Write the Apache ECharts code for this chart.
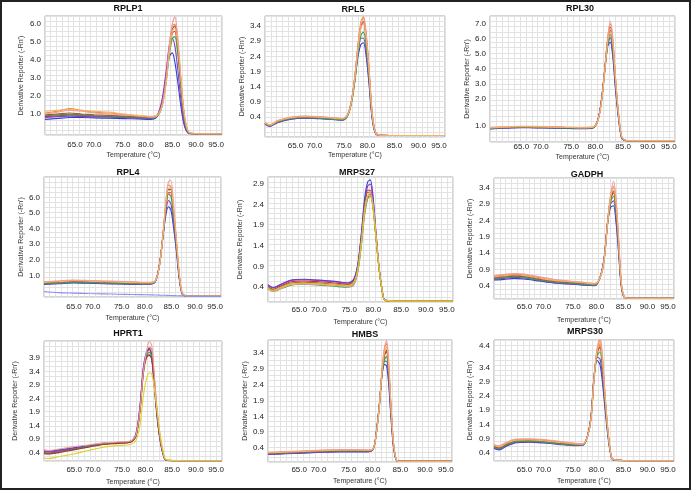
<!DOCTYPE html>
<html><head><meta charset="utf-8">
<script src="https://cdn.jsdelivr.net/npm/echarts@6/dist/echarts.min.js"></script>
<style>html,body{margin:0;padding:0;background:#fff}#c{width:691px;height:491px}</style>
</head><body><div id="c"></div>
<script>
// ---------- shared tick labels ----------
const xTickText = ['65.0','70.0','75.0','80.0','85.0','90.0','95.0'];
const xTickPos  = [66.1, 69.9, 75.8, 80.5, 85.9, 90.7, 94.8];
const xAxisTitle = 'Temperature (°C)';
const yAxisTitle = "Derivative Reporter (-Rn')";

// ---------- RPLP1 ----------
const RPLP1_T = [60,62.5,65,67.5,70,73,76,79,81.5,82.8,83.8,84.6,85.3,85.9,86.4,87,87.6,88.2,88.8,89.5,92,96];
const RPLP1_Y = [
 [0.85,0.9,0.95,0.92,0.88,0.85,0.82,0.78,0.76,0.88,1.5,2.9,4.5,5.5,5.6,4.5,2.7,1.0,0.15,-0.08,-0.1,-0.1],
 [1.05,1.15,1.3,1.2,1.1,1.05,0.98,0.9,0.85,0.95,1.6,3.1,4.9,5.9,6.0,4.8,2.9,1.1,0.2,-0.07,-0.1,-0.1],
 [0.7,0.75,0.8,0.8,0.78,0.76,0.74,0.72,0.7,0.85,1.6,3.0,4.2,4.4,3.9,2.8,1.5,0.5,0.02,-0.1,-0.1,-0.1],
 [0.8,0.85,0.88,0.86,0.84,0.82,0.8,0.76,0.74,0.9,1.8,3.3,4.8,5.2,4.8,3.5,1.9,0.6,0.05,-0.09,-0.1,-0.1],
 [0.9,0.95,0.98,0.95,0.9,0.88,0.84,0.8,0.78,0.86,1.4,2.7,4.3,5.2,5.3,4.4,2.7,1.0,0.15,-0.08,-0.1,-0.1],
 [0.95,1.0,1.05,1.0,0.96,0.92,0.88,0.84,0.8,0.9,1.5,2.8,4.6,5.7,5.9,4.9,3.0,1.2,0.25,-0.06,-0.1,-0.1],
 [1.0,1.1,1.2,1.15,1.05,1.0,0.95,0.88,0.82,0.9,1.5,2.9,4.8,6.0,6.4,5.3,3.2,1.3,0.25,-0.06,-0.1,-0.1],
 [1.15,1.2,1.25,1.2,1.15,1.1,1.0,0.92,0.86,0.92,1.4,2.6,4.4,5.6,5.8,4.9,3.1,1.3,0.3,-0.05,-0.1,-0.1]
];
const RPLP1_TICKS = [1,2,3,4,5,6];
const RPLP1_TICKTXT = ['1.0','2.0','3.0','4.0','5.0','6.0'];

// ---------- RPL5 ----------
const RPL5_T = [60,61,62.5,65,68,71,74,75.5,76.5,77.3,78,78.6,79.2,79.7,80.2,80.8,81.4,82,82.6,85,90,96];
const RPL5_Y = [
 [0.2,0.12,0.26,0.37,0.41,0.39,0.35,0.33,0.46,0.92,1.75,2.7,3.4,3.5,3.0,1.85,0.5,-0.08,-0.18,-0.2,-0.2,-0.2],
 [0.22,0.14,0.28,0.39,0.43,0.41,0.37,0.35,0.48,0.95,1.8,2.8,3.55,3.7,3.2,2.0,0.6,-0.06,-0.18,-0.2,-0.2,-0.2],
 [0.17,0.1,0.22,0.33,0.37,0.35,0.32,0.3,0.44,0.9,1.65,2.4,2.8,2.85,2.45,1.5,0.4,-0.1,-0.19,-0.2,-0.2,-0.2],
 [0.18,0.11,0.23,0.34,0.38,0.36,0.33,0.31,0.45,0.92,1.7,2.5,3.0,3.0,2.6,1.6,0.42,-0.1,-0.19,-0.2,-0.2,-0.2],
 [0.19,0.12,0.24,0.35,0.39,0.37,0.33,0.31,0.43,0.86,1.6,2.5,3.1,3.2,2.8,1.75,0.48,-0.08,-0.18,-0.2,-0.2,-0.2],
 [0.21,0.13,0.27,0.38,0.42,0.4,0.36,0.34,0.47,0.94,1.75,2.7,3.4,3.55,3.1,1.95,0.58,-0.06,-0.18,-0.2,-0.2,-0.2],
 [0.23,0.15,0.29,0.4,0.44,0.42,0.38,0.36,0.49,0.96,1.8,2.75,3.5,3.65,3.2,2.05,0.62,-0.05,-0.18,-0.2,-0.2,-0.2],
 [0.21,0.14,0.27,0.38,0.42,0.4,0.36,0.34,0.46,0.9,1.72,2.65,3.35,3.5,3.05,1.9,0.55,-0.07,-0.18,-0.2,-0.2,-0.2]
];
const RPL5_TICKS = [0.4,0.9,1.4,1.9,2.4,2.9,3.4];
const RPL5_TICKTXT = ['0.4','0.9','1.4','1.9','2.4','2.9','3.4'];

// ---------- RPL30 ----------
const RPL30_T = [60,63,66,69,72,75,78,80,81,81.7,82.3,82.9,83.4,83.9,84.4,85,85.6,86.2,87,90,96];
const RPL30_Y = [
 [0.05,0.1,0.13,0.12,0.1,0.08,0.06,0.1,0.62,1.95,3.9,5.9,6.6,5.4,3.1,0.9,-0.55,-0.75,-0.78,-0.78,-0.78],
 [0.08,0.13,0.16,0.15,0.13,0.1,0.08,0.12,0.6,1.9,3.9,6.1,7.0,5.9,3.4,1.0,-0.52,-0.74,-0.78,-0.78,-0.78],
 [0.0,0.05,0.08,0.07,0.05,0.03,0.02,0.05,0.6,1.95,3.8,5.5,5.8,4.8,2.7,0.7,-0.6,-0.76,-0.78,-0.78,-0.78],
 [0.02,0.07,0.1,0.09,0.07,0.05,0.04,0.07,0.62,1.95,3.85,5.6,6.1,5.0,2.9,0.8,-0.58,-0.76,-0.78,-0.78,-0.78],
 [0.03,0.08,0.11,0.1,0.08,0.06,0.05,0.08,0.58,1.85,3.7,5.6,6.3,5.3,3.1,0.9,-0.55,-0.75,-0.78,-0.78,-0.78],
 [0.06,0.11,0.14,0.14,0.12,0.09,0.07,0.1,0.58,1.85,3.8,5.9,6.8,5.8,3.4,1.05,-0.5,-0.74,-0.78,-0.78,-0.78],
 [0.09,0.14,0.18,0.17,0.14,0.11,0.09,0.12,0.56,1.8,3.8,6.0,7.2,6.1,3.6,1.1,-0.48,-0.73,-0.78,-0.78,-0.78],
 [0.07,0.12,0.15,0.14,0.12,0.1,0.08,0.11,0.57,1.82,3.75,5.8,6.7,5.7,3.4,1.0,-0.5,-0.74,-0.78,-0.78,-0.78]
];
const RPL30_TICKS = [0.2,2,3,4,5,6,7];
const RPL30_TICKTXT = ['1.0','2.0','3.0','4.0','5.0','6.0','7.0'];

// ---------- RPL4 ----------
const RPL4_T = [60,63,66,69,72,75,78,81,82.6,83.5,84.2,84.8,85.3,85.8,86.3,86.9,87.5,88.1,89,92,96];
const RPL4_Y = [
 [0.5,0.55,0.6,0.58,0.55,0.53,0.5,0.48,0.6,1.7,3.6,5.4,6.3,6.3,5.1,3.1,1.0,-0.15,-0.32,-0.32,-0.32],
 [0.58,0.63,0.68,0.66,0.63,0.6,0.57,0.54,0.64,1.7,3.7,5.7,6.8,6.7,5.4,3.3,1.1,-0.12,-0.32,-0.32,-0.32],
 [0.42,0.47,0.52,0.5,0.47,0.45,0.43,0.42,0.58,1.75,3.5,4.9,5.4,5.2,4.2,2.6,0.8,-0.18,-0.32,-0.32,-0.32],
 [0.45,0.5,0.55,0.53,0.5,0.48,0.46,0.44,0.6,1.75,3.55,5.1,5.8,5.6,4.5,2.8,0.9,-0.17,-0.32,-0.32,-0.32],
 [0.47,0.52,0.57,0.55,0.52,0.5,0.48,0.46,0.58,1.65,3.5,5.3,6.2,6.1,4.9,3.0,0.95,-0.15,-0.32,-0.32,-0.32],
 [0.53,0.58,0.63,0.61,0.58,0.55,0.52,0.5,0.61,1.68,3.6,5.5,6.5,6.5,5.3,3.2,1.05,-0.14,-0.32,-0.32,-0.32],
 [0.6,0.65,0.7,0.68,0.65,0.62,0.59,0.56,0.65,1.65,3.65,5.8,7.0,7.1,5.8,3.5,1.2,-0.1,-0.32,-0.32,-0.32],
 [0.55,0.6,0.66,0.64,0.6,0.57,0.54,0.52,0.62,1.66,3.6,5.6,6.6,6.6,5.4,3.3,1.1,-0.12,-0.32,-0.32,-0.32],
 [-0.03,-0.1,-0.13,-0.16,-0.18,-0.2,-0.22,-0.24,-0.25,-0.26,-0.27,-0.27,-0.28,-0.28,-0.29,-0.3,-0.3,-0.31,-0.32,-0.34,-0.35]
];
const RPL4_TICKS = [1,2,3,4,5,6];
const RPL4_TICKTXT = ['1.0','2.0','3.0','4.0','5.0','6.0'];

// ---------- MRPS27 ----------
const MRPS27_T = [60,61,62.5,64.5,67,70,73,75.5,76.7,77.5,78.2,78.8,79.4,79.9,80.4,81,81.6,82.2,82.8,86,96];
const MRPS27_Y = [
 [0.42,0.35,0.43,0.53,0.55,0.53,0.5,0.47,0.56,0.92,1.65,2.35,2.75,2.75,2.45,1.65,0.88,0.34,0.08,0.06,0.06],
 [0.38,0.31,0.38,0.47,0.49,0.47,0.45,0.43,0.5,0.82,1.5,2.2,2.55,2.6,2.35,1.6,0.85,0.33,0.08,0.06,0.06],
 [0.46,0.39,0.47,0.57,0.59,0.57,0.54,0.5,0.6,0.98,1.75,2.55,2.95,3.0,2.65,1.75,0.9,0.34,0.08,0.06,0.06],
 [0.45,0.38,0.46,0.56,0.58,0.56,0.53,0.5,0.58,0.95,1.7,2.45,2.85,2.9,2.55,1.7,0.88,0.33,0.08,0.06,0.06],
 [0.36,0.3,0.36,0.45,0.47,0.45,0.42,0.4,0.46,0.78,1.45,2.15,2.55,2.65,2.4,1.65,0.88,0.35,0.08,0.06,0.06],
 [0.4,0.33,0.41,0.5,0.52,0.5,0.47,0.45,0.53,0.88,1.58,2.3,2.7,2.7,2.4,1.62,0.86,0.33,0.08,0.06,0.06],
 [0.37,0.3,0.37,0.46,0.48,0.46,0.44,0.41,0.47,0.8,1.48,2.2,2.6,2.7,2.45,1.7,0.9,0.36,0.08,0.06,0.06],
 [0.39,0.32,0.4,0.48,0.5,0.48,0.46,0.44,0.52,0.86,1.55,2.28,2.62,2.62,2.35,1.6,0.85,0.33,0.08,0.06,0.06]
];
const MRPS27_TICKS = [0.4,0.9,1.4,1.9,2.4,2.9];
const MRPS27_TICKTXT = ['0.4','0.9','1.4','1.9','2.4','2.9'];

// ---------- GADPH ----------
const GADPH_T = [60,62,64,66,69,72,75,78,80.2,81.2,82,82.7,83.3,83.9,84.4,84.9,85.4,85.9,86.5,90,96];
const GADPH_Y = [
 [0.64,0.67,0.7,0.68,0.6,0.53,0.5,0.46,0.44,0.66,1.2,2.35,3.05,3.25,2.75,1.72,0.52,0.1,0.03,0.02,0.02],
 [0.7,0.73,0.76,0.74,0.66,0.58,0.54,0.5,0.47,0.66,1.18,2.35,3.15,3.45,2.95,1.85,0.58,0.12,0.03,0.02,0.02],
 [0.58,0.6,0.63,0.61,0.55,0.49,0.46,0.42,0.41,0.65,1.22,2.3,2.8,2.85,2.35,1.45,0.45,0.08,0.03,0.02,0.02],
 [0.6,0.63,0.66,0.64,0.57,0.5,0.47,0.44,0.42,0.66,1.22,2.3,2.9,3.0,2.5,1.55,0.48,0.09,0.03,0.02,0.02],
 [0.62,0.65,0.68,0.66,0.58,0.52,0.49,0.45,0.43,0.63,1.15,2.25,2.95,3.15,2.7,1.7,0.52,0.1,0.03,0.02,0.02],
 [0.67,0.7,0.73,0.71,0.63,0.56,0.52,0.48,0.46,0.65,1.17,2.3,3.05,3.3,2.85,1.8,0.56,0.11,0.03,0.02,0.02],
 [0.72,0.75,0.78,0.76,0.68,0.6,0.55,0.51,0.48,0.65,1.15,2.3,3.15,3.6,3.1,1.95,0.62,0.13,0.03,0.02,0.02],
 [0.68,0.71,0.74,0.72,0.64,0.57,0.53,0.49,0.46,0.64,1.16,2.3,3.1,3.4,2.9,1.82,0.57,0.11,0.03,0.02,0.02]
];
const GADPH_TICKS = [0.4,0.9,1.4,1.9,2.4,2.9,3.4];
const GADPH_TICKTXT = ['0.4','0.9','1.4','1.9','2.4','2.9','3.4'];

// ---------- HPRT1 ----------
const HPRT1_T = [60,61,63,66,69,72,75,77.5,78.6,79.4,80.1,80.7,81.3,81.8,82.3,82.8,83.4,84,84.7,88,96];
const HPRT1_Y = [
 [0.4,0.38,0.44,0.54,0.63,0.72,0.76,0.8,1.05,2.0,3.45,4.0,4.2,4.05,3.05,2.0,1.05,0.45,0.12,0.1,0.1],
 [0.45,0.43,0.48,0.58,0.66,0.75,0.78,0.8,1.0,1.9,3.3,3.95,4.3,4.2,3.2,2.1,1.1,0.47,0.13,0.1,0.1],
 [0.48,0.46,0.5,0.58,0.65,0.74,0.77,0.82,1.1,2.1,3.55,4.1,4.25,3.9,2.9,1.85,0.95,0.4,0.11,0.1,0.1],
 [0.44,0.42,0.47,0.56,0.64,0.73,0.76,0.8,1.08,2.05,3.5,3.95,4.0,3.8,2.85,1.85,0.95,0.4,0.11,0.1,0.1],
 [0.38,0.36,0.42,0.52,0.62,0.72,0.75,0.79,1.02,1.95,3.35,3.95,4.1,3.95,3.0,1.95,1.0,0.43,0.12,0.1,0.1],
 [0.36,0.35,0.4,0.5,0.6,0.7,0.74,0.78,1.0,1.95,3.4,3.9,4.0,3.85,2.95,1.95,1.0,0.43,0.12,0.1,0.1],
 [0.5,0.48,0.53,0.62,0.68,0.76,0.79,0.83,1.05,1.95,3.4,4.1,4.5,4.35,3.3,2.15,1.1,0.47,0.13,0.1,0.1],
 [0.2,0.18,0.25,0.35,0.48,0.6,0.66,0.7,0.85,1.4,2.5,3.1,3.35,3.3,2.8,2.05,1.2,0.55,0.15,0.1,0.1]
];
const HPRT1_TICKS = [0.4,0.9,1.4,1.9,2.4,2.9,3.4,3.9];
const HPRT1_TICKTXT = ['0.4','0.9','1.4','1.9','2.4','2.9','3.4','3.9'];

// ---------- HMBS ----------
const HMBS_T = [60,62,65,68,71,74,77,79.5,80.6,81.2,81.8,82.3,82.8,83.2,83.6,84,84.5,85,85.5,89,96];
const HMBS_Y = [
 [0.22,0.23,0.25,0.27,0.29,0.3,0.3,0.3,0.37,0.9,1.8,2.8,3.35,3.45,2.9,1.8,0.6,0.07,-0.02,-0.02,-0.02],
 [0.26,0.27,0.29,0.31,0.33,0.34,0.34,0.33,0.39,0.88,1.78,2.85,3.55,3.7,3.1,1.9,0.65,0.08,-0.02,-0.02,-0.02],
 [0.2,0.21,0.23,0.25,0.27,0.28,0.28,0.28,0.36,0.92,1.8,2.7,3.05,3.0,2.45,1.5,0.5,0.05,-0.02,-0.02,-0.02],
 [0.21,0.22,0.24,0.26,0.28,0.29,0.29,0.29,0.37,0.92,1.8,2.72,3.15,3.15,2.6,1.6,0.53,0.06,-0.02,-0.02,-0.02],
 [0.23,0.24,0.26,0.28,0.3,0.31,0.31,0.31,0.37,0.86,1.72,2.7,3.2,3.3,2.8,1.75,0.58,0.07,-0.02,-0.02,-0.02],
 [0.24,0.25,0.27,0.29,0.31,0.32,0.32,0.32,0.38,0.88,1.76,2.78,3.35,3.5,2.95,1.85,0.62,0.08,-0.02,-0.02,-0.02],
 [0.27,0.28,0.3,0.32,0.34,0.35,0.35,0.34,0.39,0.86,1.75,2.85,3.6,3.8,3.2,1.95,0.68,0.09,-0.02,-0.02,-0.02],
 [0.25,0.26,0.28,0.3,0.32,0.33,0.33,0.33,0.38,0.87,1.76,2.8,3.45,3.6,3.05,1.88,0.64,0.08,-0.02,-0.02,-0.02]
];
const HMBS_TICKS = [0.4,0.9,1.4,1.9,2.4,2.9,3.4];
const HMBS_TICKTXT = ['0.4','0.9','1.4','1.9','2.4','2.9','3.4'];

// ---------- MRPS30 ----------
const MRPS30_T = [60,61,62.5,64.5,67,70,73,76,77.8,78.7,79.4,80,80.6,81.2,81.7,82.2,82.7,83.2,83.8,87,96];
const MRPS30_Y = [
 [0.62,0.57,0.7,0.82,0.84,0.81,0.75,0.7,0.7,1.0,1.65,3.05,3.9,4.1,3.45,2.3,1.3,0.55,0.18,0.13,0.13],
 [0.68,0.63,0.76,0.87,0.88,0.85,0.79,0.73,0.72,0.98,1.6,3.0,4.0,4.35,3.7,2.45,1.35,0.57,0.18,0.13,0.13],
 [0.56,0.51,0.64,0.76,0.78,0.75,0.7,0.66,0.67,1.0,1.7,3.05,3.65,3.5,2.85,1.95,1.1,0.48,0.16,0.13,0.13],
 [0.58,0.53,0.66,0.78,0.8,0.77,0.72,0.67,0.68,1.0,1.68,3.05,3.75,3.7,3.05,2.1,1.2,0.5,0.17,0.13,0.13],
 [0.6,0.55,0.68,0.8,0.81,0.78,0.73,0.68,0.69,0.97,1.6,2.95,3.8,3.95,3.3,2.25,1.25,0.53,0.17,0.13,0.13],
 [0.64,0.59,0.72,0.84,0.85,0.82,0.76,0.71,0.71,0.99,1.62,3.0,3.9,4.2,3.55,2.35,1.3,0.55,0.18,0.13,0.13],
 [0.7,0.65,0.78,0.89,0.9,0.87,0.81,0.75,0.73,0.98,1.58,2.98,4.05,4.45,3.8,2.5,1.38,0.58,0.18,0.13,0.13],
 [0.66,0.61,0.74,0.85,0.86,0.83,0.77,0.72,0.71,0.98,1.6,3.0,3.95,4.25,3.6,2.4,1.32,0.56,0.18,0.13,0.13]
];
const MRPS30_TICKS = [0.4,0.9,1.4,1.9,2.4,2.9,3.4,3.9,4.16];
const MRPS30_TICKTXT = ['0.4','0.9','1.4','1.9','2.4','2.9','3.4','3.9','4.4'];

// ---------- layout & style (not data) ----------
const FONT = 'Liberation Sans, Arial, Helvetica, sans-serif';
const baseColors = ['#e3262b','#f28a25','#2f3fd6','#8a3cbf','#2ea64e','#9c5a2e','#f09aa2','#f5b26a'];
const panels = [
 {name:'RPLP1', T:RPLP1_T, Y:RPLP1_Y, ticks:RPLP1_TICKS, txt:RPLP1_TICKTXT, yMin:-0.17, yMax:6.45,
  g:{left:45,top:16,width:177,height:119}, title:[128,7], yGap:20.5, xGap:16.5, xMargin:6},
 {name:'RPL5', T:RPL5_T, Y:RPL5_Y, ticks:RPL5_TICKS, txt:RPL5_TICKTXT, yMin:-0.25, yMax:3.73,
  g:{left:265,top:16,width:180,height:121}, title:[353,8], yGap:19.5, xGap:14.5, xMargin:5},
 {name:'RPL30', T:RPL30_T, Y:RPL30_Y, ticks:RPL30_TICKS, txt:RPL30_TICKTXT, yMin:-0.87, yMax:7.53,
  g:{left:490,top:16,width:185,height:126}, title:[580,7], yGap:18.5, xGap:11.5, xMargin:1},
 {name:'RPL4', T:RPL4_T, Y:RPL4_Y, ticks:RPL4_TICKS, txt:RPL4_TICKTXT, yMin:-0.38, yMax:7.31,
  g:{left:44,top:177,width:177,height:120}, title:[128,171], yGap:18.5, xGap:17.5, xMargin:6,
  colors:baseColors.concat(['#8f8ff5'])},
 {name:'MRPS27', T:MRPS27_T, Y:MRPS27_Y, ticks:MRPS27_TICKS, txt:MRPS27_TICKTXT, yMin:0.04, yMax:3.07,
  g:{left:268,top:177,width:185,height:125}, title:[357,171], yGap:24.5, xGap:16.5, xMargin:4,
  colors:['#e3262b','#f28a25','#2f3fd6','#8a3cbf','#2ea64e','#9c5a2e','#f09aa2','#d9c81f']},
 {name:'GADPH', T:GADPH_T, Y:GADPH_Y, ticks:GADPH_TICKS, txt:GADPH_TICKTXT, yMin:0.0, yMax:3.7,
  g:{left:494,top:178,width:180,height:121}, title:[587,173], yGap:20.5, xGap:17.5, xMargin:4},
 {name:'HPRT1', T:HPRT1_T, Y:HPRT1_Y, ticks:HPRT1_TICKS, txt:HPRT1_TICKTXT, yMin:0.09, yMax:4.52,
  g:{left:44,top:341,width:178,height:120}, title:[128,332], yGap:25.5, xGap:17.5, xMargin:5,
  colors:['#e3262b','#f28a25','#2f3fd6','#8a3cbf','#2ea64e','#b0302a','#f09aa2','#dcd428']},
 {name:'HMBS', T:HMBS_T, Y:HMBS_Y, ticks:HMBS_TICKS, txt:HMBS_TICKTXT, yMin:-0.04, yMax:3.82,
  g:{left:268,top:340,width:184,height:122}, title:[365,333], yGap:18.5, xGap:15.5, xMargin:4},
 {name:'MRPS30', T:MRPS30_T, Y:MRPS30_Y, ticks:MRPS30_TICKS, txt:MRPS30_TICKTXT, yMin:0.12, yMax:4.36,
  g:{left:494,top:340,width:180,height:121}, title:[585,330], yGap:20.5, xGap:16.5, xMargin:5}
];

function mapper(pos, txt){
  return function(v){
    for (let i=0;i<pos.length;i++){ if (Math.abs(pos[i]-v) < 1e-6) return txt[i]; }
    return '';
  };
}

const grid=[], xAxis=[], yAxis=[], series=[], title=[];
panels.forEach((p, i) => {
  grid.push(Object.assign({show:true, borderColor:'#a9a9a9', borderWidth:1, backgroundColor:'#fff'}, p.g));
  title.push({text:p.name, left:p.title[0], top:p.title[1]-3, textAlign:'center', padding:0,
    textStyle:{fontSize:9, fontWeight:'bold', color:'#111', fontFamily:FONT}});
  // main data axes
  xAxis.push({type:'value', gridIndex:i, min:60, max:96,
    name:xAxisTitle, nameLocation:'middle', nameGap:p.xGap,
    nameTextStyle:{fontSize:7, color:'#333', fontFamily:FONT},
    axisLine:{show:false}, axisTick:{show:false}, splitLine:{show:false},
    axisLabel:{customValues:xTickPos, formatter:mapper(xTickPos, xTickText), fontSize:8, color:'#222',
      fontFamily:FONT, margin:p.xMargin, hideOverlap:false, showMinLabel:true, showMaxLabel:true}});
  yAxis.push({type:'value', gridIndex:i, min:p.yMin, max:p.yMax,
    name:yAxisTitle, nameLocation:'middle', nameGap:p.yGap, nameRotate:90,
    nameTextStyle:{fontSize:7, color:'#333', fontFamily:FONT},
    axisLine:{show:false}, axisTick:{show:false}, splitLine:{show:false},
    axisLabel:{customValues:p.ticks, formatter:mapper(p.ticks, p.txt), fontSize:8, color:'#222',
      fontFamily:FONT, margin:4, hideOverlap:false, showMinLabel:true, showMaxLabel:true}});
  // fine background grid axes
  xAxis.push({type:'value', gridIndex:i, min:0, max:31, interval:1, show:true,
    axisLine:{show:false}, axisTick:{show:false}, axisLabel:{show:false},
    splitLine:{show:true, lineStyle:{color:'#e2e2e2', width:1}}});
  yAxis.push({type:'value', gridIndex:i, min:0, max:24, interval:1, show:true,
    axisLine:{show:false}, axisTick:{show:false}, axisLabel:{show:false},
    splitLine:{show:true, lineStyle:{color:'#e2e2e2', width:1}}});
  const cols = p.colors || baseColors;
  p.Y.forEach((ys, k) => {
    series.push({type:'line', xAxisIndex:2*i, yAxisIndex:2*i, showSymbol:false, silent:true,
      smooth:0.3, clip:true, animation:false,
      lineStyle:{width:1.1, color:cols[k % cols.length]}, itemStyle:{color:cols[k % cols.length]},
      data:p.T.map((t, j) => [t, ys[j]])});
  });
});

const chart = echarts.init(document.getElementById('c'), null, {renderer:'canvas'});
chart.setOption({
  animation:false, backgroundColor:'#fff',
  title, grid, xAxis, yAxis, series,
  graphic:[{type:'rect', shape:{x:1, y:1, width:689, height:488}, style:{fill:null, stroke:'#222', lineWidth:2}, silent:true, z:100}]
});
</script></body></html>
